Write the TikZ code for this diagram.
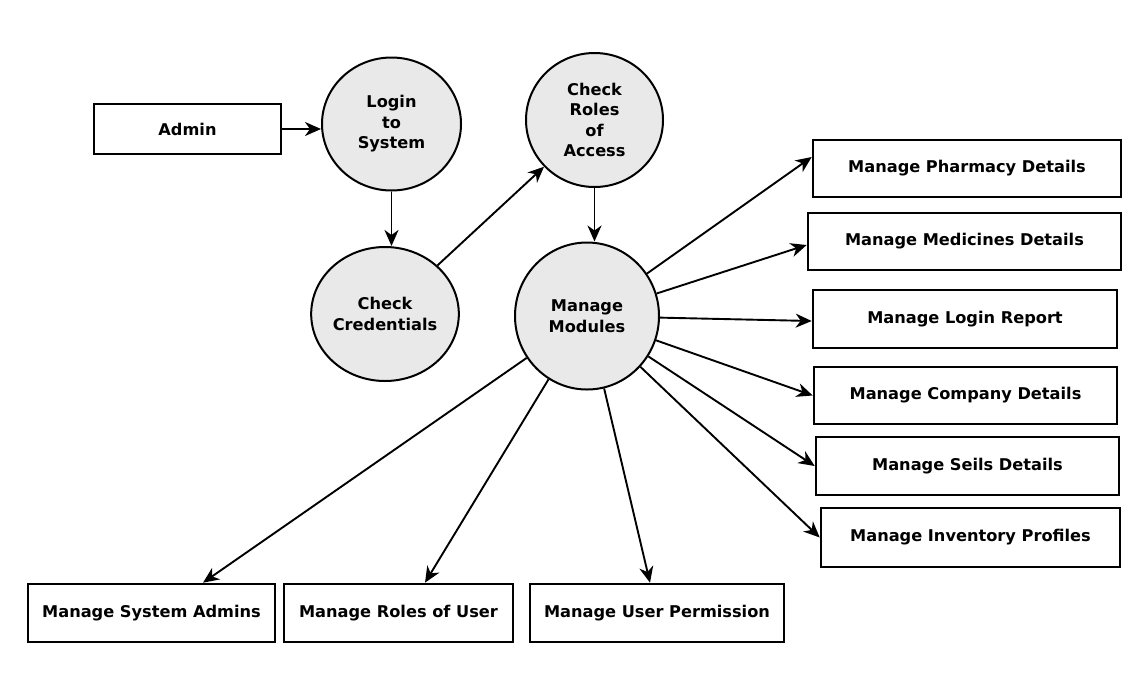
\documentclass[tikz,border=0pt]{standalone}
\usepackage{fontspec}
\setmainfont{DejaVu Sans}
\usetikzlibrary{arrows.meta,calc,shapes.geometric}
\begin{document}
\begin{tikzpicture}[x=1pt,y=-1pt,
  every node/.style={font=\fontsize{16.2}{20.5}\selectfont\bfseries, align=center, inner sep=0pt},
  box/.style={draw=black, line width=2.6pt, rectangle, fill=white},
  proc/.style={draw=black, line width=2pt, ellipse, fill=gray!17},
  flow/.style={draw=black, line width=1.9pt, -{Stealth[length=16pt,width=14pt,inset=5pt]}}]
\useasboundingbox[fill=white] (0,0) rectangle (1142,678);
% processes
\node[proc, minimum width=139pt, minimum height=133pt] (login) at (391.5,124) {Login\\to\\System};
\node[proc, minimum width=138pt, minimum height=134pt] (cred) at (385,314) {Check\\Credentials};
\node[proc, minimum width=137pt, minimum height=134pt] (roles) at (594.5,120) {Check\\Roles\\of\\Access};
\node[proc, minimum width=144pt, minimum height=147pt] (mod) at (587,316) {Manage\\Modules};
% entities
\node[box, minimum width=187pt, minimum height=50pt] (admin) at (187.5,129) {Admin};
\node[box, minimum width=308pt, minimum height=57pt] (pharm) at (967,168.5) {Manage Pharmacy Details};
\node[box, minimum width=313pt, minimum height=57pt] (med) at (964.5,241.5) {Manage Medicines Details};
\node[box, minimum width=304pt, minimum height=58pt] (lrep) at (965,319) {Manage Login Report};
\node[box, minimum width=303pt, minimum height=57pt] (comp) at (965.5,395.5) {Manage Company Details};
\node[box, minimum width=303pt, minimum height=58pt] (sells) at (967.5,466) {Manage Seils Details};
\node[box, minimum width=299pt, minimum height=59pt] (inv) at (970.5,537.5) {Manage Inventory Profiles};
\node[box, minimum width=247pt, minimum height=58pt] (sysad) at (151.5,613) {Manage System Admins};
\node[box, minimum width=229pt, minimum height=58pt] (rolu) at (398.5,613) {Manage Roles of User};
\node[box, minimum width=254pt, minimum height=58pt] (perm) at (657,613) {Manage User Permission};
% connectors
\draw[flow] (admin.east) -- (admin.east -| login.west);
\draw[flow] (login.south) -- (login.south |- cred.north);
\draw[flow] (cred) -- (roles);
\draw[flow] (roles.south) -- (roles.south |- mod.north);
\coordinate (tpharm) at ($(pharm.west)+(0,-11.5)$);
\coordinate (tmed) at ($(med.west)+(0,3.5)$);
\coordinate (tlrep) at ($(lrep.west)+(0,2)$);
\coordinate (tcomp) at (comp.west);
\coordinate (tsells) at (sells.west);
\coordinate (tinv) at (inv.west);
\coordinate (tsysad) at ($(sysad.north)+(51.5,0)$);
\coordinate (trolu) at ($(rolu.north)+(26.5,0)$);
\coordinate (tperm) at ($(perm.north)+(-7,0)$);
\foreach \t in {tpharm,tmed,tlrep,tcomp,tsells,tinv,tsysad,trolu,tperm}
  \draw[flow] (mod) -- (\t);
\end{tikzpicture}
\end{document}
